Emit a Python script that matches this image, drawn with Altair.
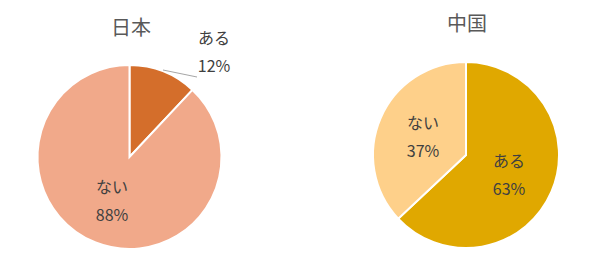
import altair as alt
import pandas as pd

# ---- data ----
countries = ["日本", "中国"]
categories = ["ある", "ない"]
japan_values = [12, 88]
china_values = [63, 37]

# ---- styles / layout (kept separate from data) ----
japan_colors = ["#D46E2B", "#F1A98A"]
china_colors = ["#E0A800", "#FED08A"]
FONT = "Noto Sans CJK JP"
PANEL_W, PANEL_H = 300, 264

layout = {
    "日本": {"cx": 129.5, "cy": 157, "r": 92, "tx": 131, "ty": 29,
             "labels": {"ある": (214, 39, 67), "ない": (112, 188, 216)},
             "leader": (163, 70, 197, 77)},
    "中国": {"cx": 166, "cy": 155, "r": 93, "tx": 167, "ty": 25,
             "labels": {"ある": (209, 162, 190), "ない": (123, 124, 152)},
             "leader": None},
}


def panel(country, values, colors):
    lay = layout[country]
    df = pd.DataFrame({
        "cat": categories,
        "value": values,
        "ord": list(range(len(categories))),
        "pct": [f"{v}%" for v in values],
        "lx": [lay["labels"][c][0] for c in categories],
        "ly1": [lay["labels"][c][1] for c in categories],
        "ly2": [lay["labels"][c][2] for c in categories],
    })
    base = alt.Chart(df)
    arcs = base.mark_arc(outerRadius=lay["r"], stroke="white", strokeWidth=2).encode(
        theta=alt.Theta("value:Q", stack=True),
        order=alt.Order("ord:Q"),
        color=alt.Color("cat:N", scale=alt.Scale(domain=categories, range=colors), legend=None),
        x=alt.value(lay["cx"]),
        y=alt.value(lay["cy"]),
    )
    name_txt = base.mark_text(font=FONT, fontSize=16, color="#404040", baseline="middle").encode(
        x=alt.X("lx:Q", scale=None), y=alt.Y("ly1:Q", scale=None), text="cat:N")
    pct_txt = base.mark_text(font=FONT, fontSize=16, color="#404040", baseline="middle").encode(
        x=alt.X("lx:Q", scale=None), y=alt.Y("ly2:Q", scale=None), text="pct:N")
    title = alt.Chart(pd.DataFrame({"t": [country]})).mark_text(
        font=FONT, fontSize=20, color="#595959", baseline="middle").encode(
        x=alt.value(lay["tx"]), y=alt.value(lay["ty"]), text="t:N")
    layers = [arcs, name_txt, pct_txt, title]
    if lay["leader"]:
        x1, y1, x2, y2 = lay["leader"]
        rule = alt.Chart(pd.DataFrame({"a": [0]})).mark_rule(color="#A6A6A6", strokeWidth=1).encode(
            x=alt.value(x1), y=alt.value(y1), x2=alt.value(x2), y2=alt.value(y2))
        layers.insert(1, rule)
    return alt.layer(*layers).properties(width=PANEL_W, height=PANEL_H)


chart = alt.hconcat(
    panel("日本", japan_values, japan_colors),
    panel("中国", china_values, china_colors),
    spacing=0,
).resolve_scale(color="independent").properties(
    padding=0, background="white").configure_view(stroke=None).configure_concat(spacing=0)

chart.save("out.html", embed_options={"renderer": "svg", "actions": False})
